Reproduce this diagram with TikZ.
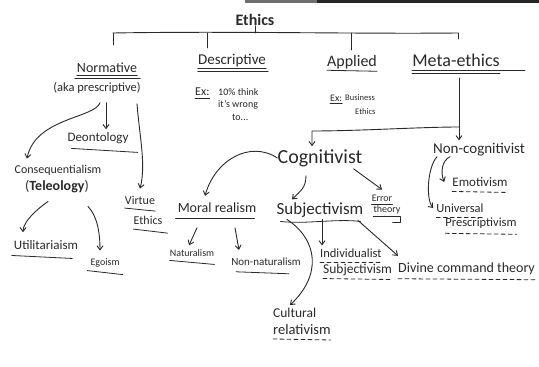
\documentclass[tikz,border=0pt]{standalone}
\usepackage{fontspec}
\setmainfont{Carlito}
\usetikzlibrary{arrows.meta}
\definecolor{ink}{HTML}{2A2A2A}
\definecolor{barlight}{HTML}{6E6E6E}
\definecolor{bardark}{HTML}{262626}
\begin{document}
\begin{tikzpicture}[x=1pt,y=-1pt,
  lbl/.style={inner sep=0pt, text=ink, font=\fontsize{#1}{#1}\selectfont},
  lbl/.default=12,
  ln/.style={draw=ink, line width=0.9pt, line cap=round, line join=round},
  arr/.style={ln, -{Straight Barb[length=4pt,width=6pt]}},
  ul/.style={ln, line width=0.8pt},
  dul/.style={ln, line width=0.8pt, dash pattern=on 4pt off 3pt}]
\useasboundingbox[fill=white] (0,0) rectangle (539,367);
\fill[barlight] (245,0) rectangle (317,3);
\fill[bardark] (317,0) rectangle (539,3);

% ---------- top level ----------
\node[lbl=16] (eth) at (255,20) {\bfseries Ethics};
\node[lbl=14] (norm) at (107,68) {Normative};
\node[lbl=12.5] (aka) at (97,88) {(aka prescriptive)};
\node[lbl=15] (desc) at (232,61) {Descriptive};
\node[lbl=12, anchor=west] (exd) at (195,92) {Ex:};
\node[lbl=10, anchor=west] (exd1) at (218,92) {10\% think};
\node[lbl=10, anchor=west] (exd2) at (218,105) {it's wrong};
\node[lbl=10, anchor=west] (exd3) at (232,117) {to...};
\node[lbl=16] (appl) at (352,62) {Applied};
\node[lbl=10, anchor=west] (exa) at (330,98) {Ex:};
\node[lbl=8.5, anchor=west] (exa1) at (345,98) {Business};
\node[lbl=8.5, anchor=west] (exa2) at (355,112) {Ethics};
\node[lbl=18] (meta) at (456,60) {Meta-ethics};

\coordinate (bL) at (113,33);
\coordinate (bR) at (458,33);
\coordinate (tN) at (113,45);
\coordinate (tD) at (207,48);
\coordinate (bD) at (207,33);
\coordinate (tA) at (351,50);
\coordinate (bA) at (351,33);
\coordinate (tM) at (458,39);
\draw[ln] (bL) .. controls (230,31) and (350,34) .. (bR);
\draw[ln] (eth.south) -- (eth.south |- bL);
\draw[ln] (bL) -- (tN);
\draw[ln] (bD) -- (tD);
\draw[ln] (bA) -- (tA);
\draw[ln] (bR) -- (tM);

% underlines top
\draw[ul] ([yshift=-3pt]norm.base west) -- ([yshift=-3pt]norm.base east);
\draw[ul] ([xshift=-2pt,yshift=-6pt]norm.base west) -- ([xshift=3pt,yshift=-6pt]norm.base east);
\draw[ul] ([yshift=-3pt]desc.base west) -- ([yshift=-3pt]desc.base east);
\draw[ul] ([yshift=-6pt]desc.base west) -- ([xshift=2pt,yshift=-6pt]desc.base east);
\draw[ul] ([yshift=-3pt]exd.base west) -- ([yshift=-3pt]exd.base east);
\draw[ul] ([yshift=-4pt]appl.base west) -- ([yshift=-5pt]appl.base east);
\draw[ul] ([yshift=-2pt]exa.base west) -- ([yshift=-2pt]exa.base east);
\draw[ul] ([yshift=-4pt]meta.base west) -- ([xshift=25pt,yshift=-4pt]meta.base east);
\draw[ul] ([yshift=-7pt]meta.base west) -- ([yshift=-7pt]meta.base east);

% ---------- normative branch ----------
\node[lbl=13] (deont) at (98,138) {Deontology};
\node[lbl=12] (cons) at (58,170) {Consequentialism};
\node[lbl=14] (tele) at (57,187) {(\textbf{Teleology})};
\node[lbl=13] (util) at (46,245) {Utilitariaism};
\node[lbl=10] (ego) at (105,263) {Egoism};
\node[lbl=12] (virt1) at (140,200) {Virtue};
\node[lbl=12] (virt2) at (148,220) {Ethics};

\draw[arr] ([xshift=3pt,yshift=-9pt]aka.south) .. controls (95,118) and (35,118) .. ([xshift=-31pt,yshift=6pt]cons.north);
\draw[arr] ([xshift=9pt,yshift=-9pt]aka.south) -- ([xshift=8pt,yshift=3pt]deont.north);
\draw[arr] ([xshift=40pt,yshift=-10pt]aka.south) .. controls (140,140) and (146,165) .. ([yshift=7pt]virt1.north);
\draw[arr] ([xshift=-9pt,yshift=-8pt]tele.south) .. controls +(-6,4) and +(0,-12) .. ([xshift=-23pt,yshift=8pt]util.north);
\draw[arr] ([xshift=31pt,yshift=-13pt]tele.south) .. controls +(10,10) and +(0,-15) .. ([xshift=-5pt,yshift=8pt]ego.north);

\draw[ul] ([xshift=4pt,yshift=-7pt]deont.base west) -- ([xshift=9pt,yshift=-11pt]deont.base east);
\draw[ul] ([xshift=-2pt,yshift=-6pt]util.base west) -- ([xshift=-6pt,yshift=-9pt]util.base east);
\draw[ul] ([xshift=-3pt,yshift=-5pt]ego.base west) -- ([xshift=3pt,yshift=-9pt]ego.base east);
\draw[ul] ([yshift=-4pt]virt1.base west) -- ([yshift=-7pt]virt1.base east);
\draw[ul] ([yshift=-5pt]virt2.base west) -- ([xshift=5pt,yshift=-9pt]virt2.base east);

% ---------- meta-ethics branch ----------
\node[lbl=20] (cog) at (320,158) {Cognitivist};
\node[lbl=15] (noncog) at (479,150) {Non-cognitivist};
\node[lbl=13] (emo) at (480,182) {Emotivism};
\node[lbl=12.5] (univ1) at (460,208) {Universal};
\node[lbl=12.5] (univ2) at (481,223) {Prescriptivism};

\coordinate (mv) at (459,78);
\coordinate (j1) at (459,127);
\coordinate (j2) at (312,131);
\draw[arr] (mv) -- ([yshift=3pt]noncog.north -| mv);
\draw[arr] (j1) .. controls (420,127) and (360,131) .. (j2) -- ([yshift=3pt]j2 |- cog.north);

\draw[arr] ([xshift=-29pt]noncog.south) .. controls +(-8,4) and +(-4,-10) .. ([xshift=-8pt]emo.west);
\draw[arr] ([xshift=-42pt]noncog.south) .. controls (427,168) and (426,200) .. ([xshift=-3pt]univ1.west);
\draw[dul] ([yshift=-5pt]emo.base west) -- ([yshift=-6pt]emo.base east);
\draw[dul] ([yshift=-5pt]univ1.base west) -- ([yshift=-5pt]univ1.base east);
\draw[dul] ([yshift=-7pt]univ2.base west) -- ([yshift=-8pt]univ2.base east);

% ---------- cognitivist branch ----------
\node[lbl=14] (mr) at (217,208) {Moral realism};
\node[lbl=17] (subj) at (320,210) {Subjectivism};
\node[lbl=10] (err1) at (382,198) {Error};
\node[lbl=10] (err2) at (387,210) {theory};

\draw[arr] (cog.west) .. controls (250,140) and (215,160) .. ([xshift=-12pt,yshift=7pt]mr.north);
\draw[arr] ([xshift=-14pt,yshift=-9pt]cog.south) .. controls +(0,12) and +(8,-8) .. ([xshift=-28pt,yshift=3pt]subj.north);
\draw[arr] ([xshift=-9pt,yshift=-2pt]cog.south east) -- ([yshift=5pt]err1.north);
\draw[ul] ([yshift=-3pt]err1.base west) -- ([yshift=-3pt]err1.base east);
\draw[ul] ([yshift=-4pt]err2.base west) -- ([yshift=-4pt]err2.base east) -- ++(0,6) -- ++(-8,0);

\draw[ul] ([xshift=-2pt,yshift=-6pt]mr.base west) -- ([xshift=-2pt,yshift=-6pt]mr.base east);
\draw[ul] ([xshift=4pt,yshift=-7pt]subj.base west) .. controls +(25,3) and +(-25,-3) .. ([xshift=-3pt,yshift=-7pt]subj.base east);

% moral realism children
\node[lbl=10] (nat) at (192,253) {Naturalism};
\node[lbl=11] (nonnat) at (266,262) {Non-naturalism};
\draw[arr] ([xshift=-20pt,yshift=-15pt]mr.base) -- ([xshift=-3pt,yshift=4pt]nat.north);
\draw[arr] ([xshift=18pt,yshift=-15pt]mr.base) -- ([xshift=-27pt,yshift=8pt]nonnat.north);
\draw[ul] ([yshift=-4pt]nat.base west) -- ([yshift=-8pt]nat.base east);
\draw[ul] ([xshift=5pt,yshift=-6pt]nonnat.base west) -- ([xshift=-12pt,yshift=-8pt]nonnat.base east);

% subjectivism children
\node[lbl=13.5, anchor=west] (cult1) at (273,313) {Cultural};
\node[lbl=14.5, anchor=west] (cult2) at (273,330) {relativism};
\node[lbl=12.5, anchor=west] (ind1) at (320,253) {Individualist};
\node[lbl=13.5, anchor=west] (ind2) at (323,270) {Subjectivism};
\node[lbl=14, anchor=west] (div) at (398,269) {Divine command theory};

\draw[arr] ([xshift=-33pt,yshift=-5pt]subj.base) .. controls (318,240) and (322,275) .. ([xshift=17pt,yshift=3pt]cult1.north west);
\draw[arr] ([xshift=2pt,yshift=-5pt]subj.base) -- ([xshift=2pt,yshift=3pt]ind1.north west);
\draw[arr] ([xshift=38pt,yshift=-6pt]subj.base) -- ([yshift=7pt]div.north west);

\draw[dul] ([yshift=-4pt]cult2.base west) -- ([yshift=-5pt]cult2.base east);
\draw[dul] ([yshift=-5pt]ind1.base west) -- ([yshift=-5pt]ind1.base east);
\draw[dul] ([yshift=-5pt]ind2.base west) -- ([yshift=-6pt]ind2.base east);
\draw[dul] ([yshift=-6pt]div.base west) -- ([yshift=-7pt]div.base east);
\end{tikzpicture}
\end{document}
